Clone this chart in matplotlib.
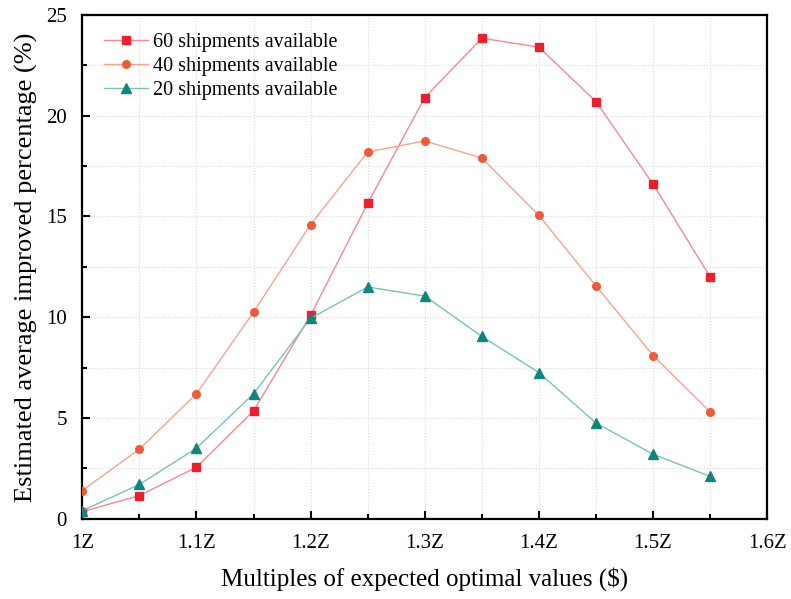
import matplotlib.pyplot as plt
from matplotlib.ticker import MultipleLocator

plt.rcParams['font.family'] = ['Liberation Serif', 'DejaVu Serif']

# data
multiples = [1.0, 1.05, 1.1, 1.15, 1.2, 1.25, 1.3, 1.35, 1.4, 1.45, 1.5, 1.55]
ship60 = [0.35, 1.15, 2.55, 5.35, 10.1, 15.65, 20.9, 23.85, 23.4, 20.7, 16.6, 12.0]
ship40 = [1.4, 3.45, 6.2, 10.25, 14.6, 18.2, 18.75, 17.9, 15.05, 11.55, 8.1, 5.3]
ship20 = [0.4, 1.7, 3.5, 6.2, 9.95, 11.5, 11.05, 9.05, 7.25, 4.75, 3.2, 2.1]
xticks = [1.0, 1.1, 1.2, 1.3, 1.4, 1.5, 1.6]
xlabels = ['1Z', '1.1Z', '1.2Z', '1.3Z', '1.4Z', '1.5Z', '1.6Z']

fig, ax = plt.subplots(figsize=(7.91, 5.99), dpi=100)
fig.subplots_adjust(left=0.104, right=0.97, top=0.975, bottom=0.134)

series = [
    (ship60, '60 shipments available', 's', '#e8202f', '#f28a92', 6),
    (ship40, '40 shipments available', 'o', '#ee5a3c', '#f4a592', 5.5),
    (ship20, '20 shipments available', '^', '#12857f', '#7cc0bc', 6.5),
]
for vals, label, mk, mcol, lcol, ms in series:
    ax.plot(multiples, vals, color=lcol, lw=1.0, marker=mk, markersize=ms,
            markerfacecolor=mcol, markeredgecolor=mcol, label=label, zorder=3)

ax.set_xlim(1.0, 1.6)
ax.set_ylim(0, 25)
ax.set_xticks(xticks)
ax.set_xticklabels(xlabels)
ax.yaxis.set_major_locator(MultipleLocator(5))
ax.yaxis.set_minor_locator(MultipleLocator(2.5))
ax.xaxis.set_minor_locator(MultipleLocator(0.05))
ax.tick_params(which='both', direction='in', labelsize=15, width=1.5,
               top=False, right=False)
ax.tick_params(which='major', length=6)
ax.tick_params(which='minor', length=3.5)
ax.tick_params(axis='x', pad=11)
ax.tick_params(axis='y', pad=11)
ax.grid(True, which='both', linestyle=':', color='#dadada', lw=0.8)

for sp in ax.spines.values():
    sp.set_linewidth(1.6)

ax.set_xlabel('Multiples of expected optimal values ($)', fontsize=18, labelpad=10)
ax.set_ylabel('Estimated average improved percentage (%)', fontsize=19, labelpad=6)

ax.legend(loc='upper left', bbox_to_anchor=(0.005, 1.0), frameon=False,
          fontsize=14.5, handlelength=2.2, handletextpad=0.25, labelspacing=0.25)

fig.savefig('out.png', dpi=100)
